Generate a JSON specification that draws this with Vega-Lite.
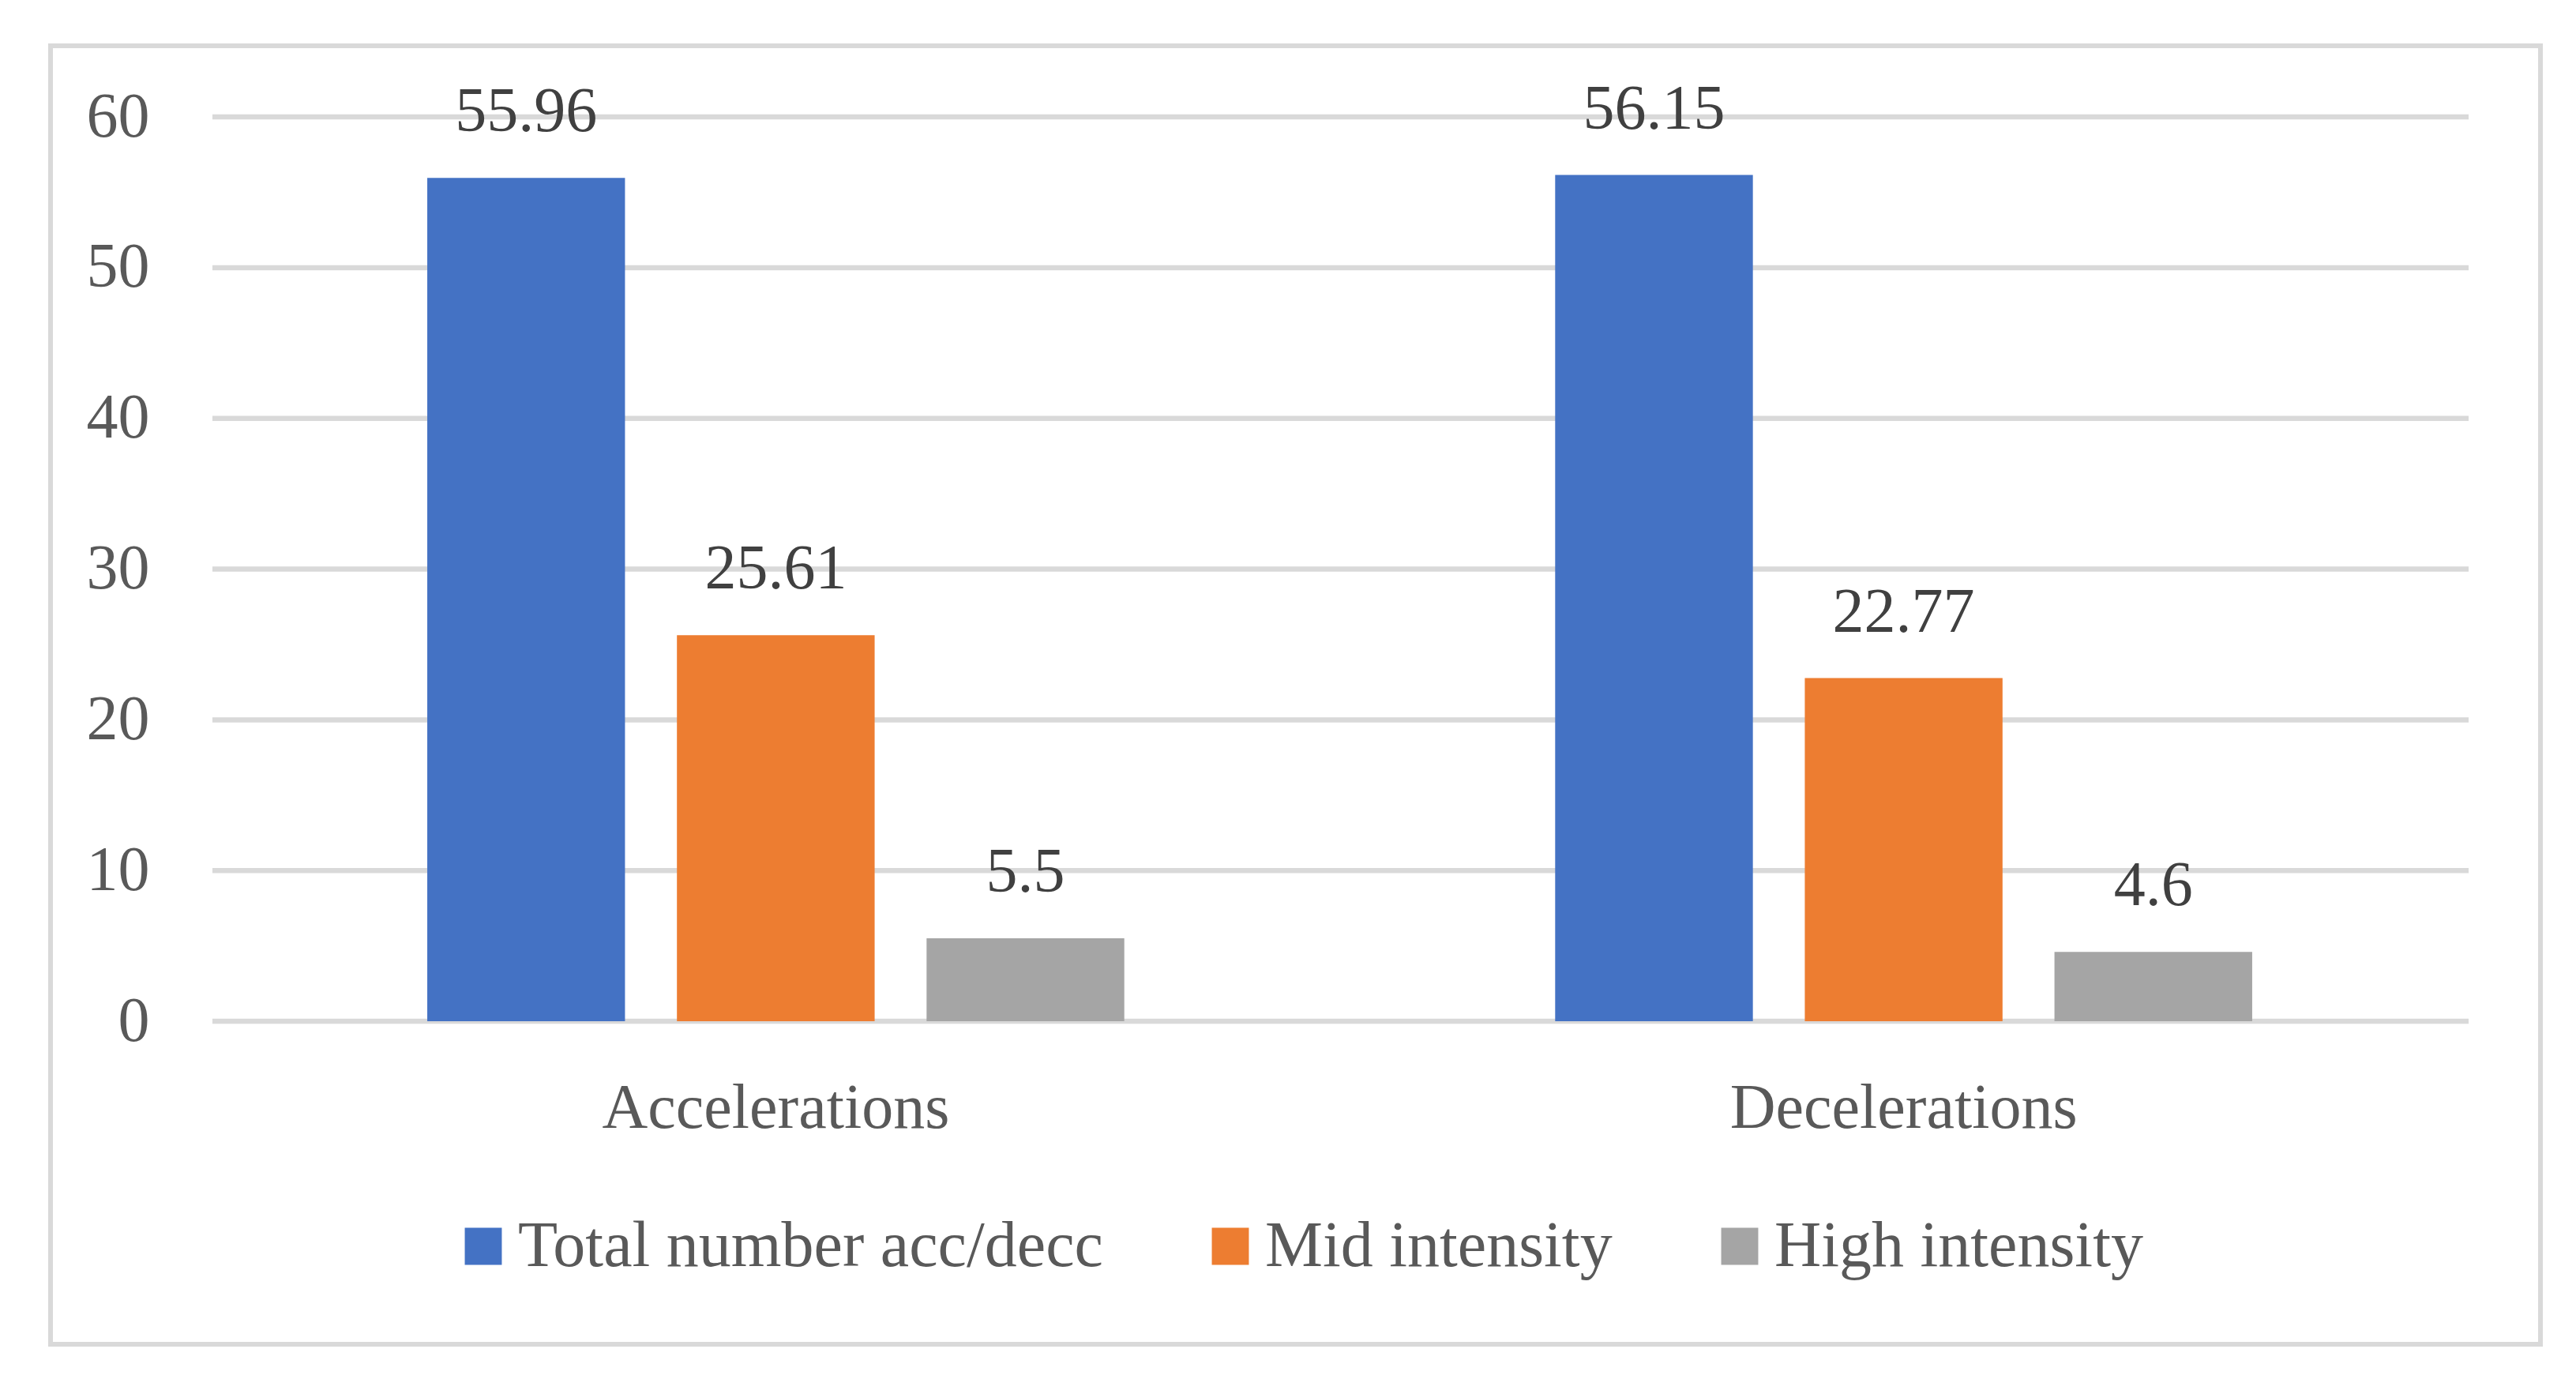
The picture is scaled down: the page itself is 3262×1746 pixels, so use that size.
{
  "$schema": "https://vega.github.io/schema/vega-lite/v6.json",
  "width": 3153,
  "height": 1644,
  "padding": {"left": 64, "top": 58, "right": 45, "bottom": 44},
  "background": "white",
  "config": {"view": {"stroke": "#d9d9d9", "strokeWidth": 6}, "font": "Liberation Serif"},
  "datasets": {
    "bars": [
      {"movement": "Accelerations", "series": "Total number acc/decc", "value": 55.96},
      {"movement": "Accelerations", "series": "Mid intensity", "value": 25.61},
      {"movement": "Accelerations", "series": "High intensity", "value": 5.5},
      {"movement": "Decelerations", "series": "Total number acc/decc", "value": 56.15},
      {"movement": "Decelerations", "series": "Mid intensity", "value": 22.77},
      {"movement": "Decelerations", "series": "High intensity", "value": 4.6}
    ],
    "grid": [{"tick": 0}, {"tick": 10}, {"tick": 20}, {"tick": 30}, {"tick": 40}, {"tick": 50}, {"tick": 60}]
  },
  "layer": [
    {
      "data": {"name": "grid"},
      "mark": {"type": "rule", "color": "#d9d9d9", "strokeWidth": 6.5},
      "encoding": {
        "y": {"field": "tick", "type": "quantitative", "scale": {"domain": [-21.43, 64.72], "nice": false, "zero": false}},
        "x": {"datum": 0, "type": "quantitative", "scale": {"domain": [-0.07175, 1.03185], "nice": false, "zero": false}, "axis": null},
        "x2": {"datum": 1}
      }
    },
    {
      "data": {"name": "bars"},
      "layer": [
        {
          "mark": {"type": "bar"},
          "encoding": {
            "x": {
              "field": "movement", "type": "nominal", "sort": ["Accelerations", "Decelerations"],
              "scale": {"paddingInner": 0.382, "paddingOuter": 0.2948, "align": 0.5665},
              "axis": {"title": null, "orient": "bottom", "domain": false, "ticks": false, "grid": false,
                       "labelFont": "Liberation Serif", "labelFontSize": 80, "labelColor": "#595959",
                       "labelPadding": 0, "labelBaseline": "alphabetic", "offset": -275, "labelAngle": 0, "labelLimit": 0}
            },
            "xOffset": {
              "field": "series", "type": "nominal",
              "sort": ["Total number acc/decc", "Mid intensity", "High intensity"],
              "scale": {"paddingInner": 0.208, "paddingOuter": 0}
            },
            "y": {
              "field": "value", "type": "quantitative",
              "scale": {"domain": [-21.43, 64.72], "nice": false, "zero": false},
              "axis": {"title": null, "values": [0, 10, 20, 30, 40, 50, 60], "domain": false, "ticks": false, "grid": false,
                       "labelPadding": 0, "offset": -125, "labelFontSize": 80, "labelColor": "#595959", "labelFont": "Liberation Serif"}
            },
            "y2": {"datum": 0},
            "color": {
              "field": "series", "type": "nominal",
              "scale": {"domain": ["Total number acc/decc", "Mid intensity", "High intensity"], "range": ["#4472C4", "#ED7D31", "#A5A5A5"]},
              "legend": {"title": null, "orient": "none", "legendX": 507, "legendY": 1479, "direction": "horizontal",
                         "symbolType": "square", "symbolSize": 2200, "symbolStrokeWidth": 0,
                         "labelFontSize": 82, "labelFont": "Liberation Serif", "labelColor": "#595959",
                         "labelOffset": 3, "columnPadding": 120, "padding": 0, "labelLimit": 0}
            }
          }
        },
        {
          "mark": {"type": "text", "baseline": "alphabetic", "dy": -59, "fontSize": 80, "font": "Liberation Serif", "color": "#404040"},
          "encoding": {
            "x": {"field": "movement", "type": "nominal", "sort": ["Accelerations", "Decelerations"]},
            "xOffset": {"field": "series", "type": "nominal", "sort": ["Total number acc/decc", "Mid intensity", "High intensity"]},
            "y": {"field": "value", "type": "quantitative", "scale": {"domain": [-21.43, 64.72], "nice": false, "zero": false}},
            "text": {"field": "value", "type": "quantitative", "format": ".4~r"}
          }
        }
      ]
    }
  ],
  "resolve": {"scale": {"x": "independent"}}
}
